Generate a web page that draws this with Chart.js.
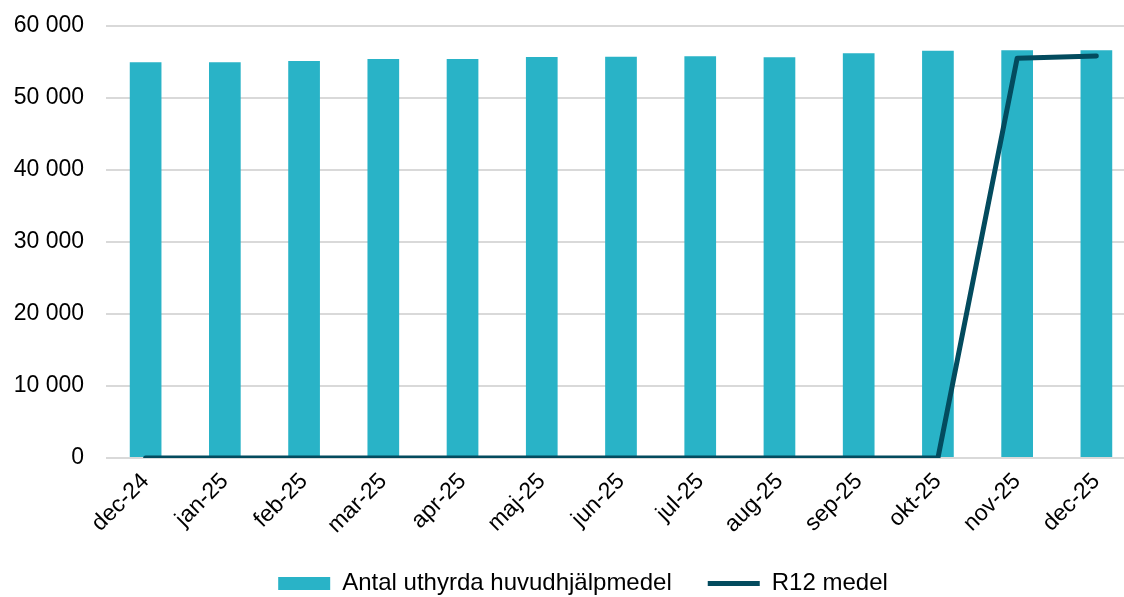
<!DOCTYPE html>
<html>
<head>
<meta charset="utf-8">
<script src="https://cdn.jsdelivr.net/npm/chart.js@4"></script>
<style>
  html, body { margin: 0; padding: 0; background: #fff; overflow: hidden; }
  #wrap { width: 1140px; height: 597px; }
</style>
</head>
<body>
<div id="wrap"><canvas id="myChart" width="1140" height="597"></canvas></div>
<script>
const months = ['dec-24', 'jan-25', 'feb-25', 'mar-25', 'apr-25', 'maj-25', 'jun-25',
    'jul-25', 'aug-25', 'sep-25', 'okt-25', 'nov-25', 'dec-25'];
const rentedValues = [54950, 54950, 55140, 55420, 55420, 55700, 55740,
    55790, 55650, 56200, 56570, 56620, 56620];
const r12Values = [0, 0, 0, 0, 0, 0, 0, 0, 0, 0, 0, 55510, 55830];
const yTicks = [0, 10000, 20000, 30000, 40000, 50000, 60000];

const barColor = '#29b3c7';
const lineColor = '#034b5e';
const font = { family: "'Liberation Sans', Arial, sans-serif", size: 23 };

const formatNumber = (v) => String(v).replace(/\B(?=(\d{3})+(?!\d))/g, ' ');

// legend keeps its wide item gap but only takes the space left under the axis,
// and sits a bit right of the canvas centre like in the original
const legendFix = {
    id: 'legendFix',
    afterInit(chart) {
        const legend = chart.legend;
        const fit = legend.fit.bind(legend);
        legend.fit = function () {
            fit();
            this.height = 61.5;
        };
    },
    afterLayout(chart) {
        chart.legend.left += 15;
        chart.legend.right += 15;
    }
};

const ctx = document.getElementById('myChart').getContext('2d');
const myChart = new Chart(ctx, {
    type: 'bar',
    data: {
        labels: months,
        datasets: [{
            type: 'bar',
            label: 'Antal uthyrda huvudhjälpmedel',
            data: rentedValues,
            backgroundColor: barColor,
            borderWidth: 0,
            pointStyle: 'rect',
            categoryPercentage: 1,
            barPercentage: 0.4,
            order: 1
        }, {
            type: 'line',
            label: 'R12 medel',
            data: r12Values,
            borderColor: lineColor,
            backgroundColor: lineColor,
            borderWidth: 5,
            borderCapStyle: 'round',
            borderJoinStyle: 'round',
            pointRadius: 0,
            pointHoverRadius: 0,
            pointStyle: 'line',
            tension: 0,
            order: 0
        }]
    },
    plugins: [legendFix],
    options: {
        responsive: false,
        animation: false,
        layout: { padding: { top: 26, left: 0, right: 4, bottom: 0 } },
        plugins: {
            tooltip: { enabled: false },
            legend: {
                position: 'bottom',
                labels: {
                    usePointStyle: true,
                    pointStyleWidth: 52,
                    boxHeight: 13,
                    padding: 36,
                    color: '#000',
                    font: { family: font.family, size: 24 },
                    sort: (a, b) => a.datasetIndex - b.datasetIndex
                }
            }
        },
        scales: {
            x: {
                grid: { display: false },
                border: { display: false },
                ticks: {
                    color: '#000',
                    font: font,
                    maxRotation: 45,
                    minRotation: 45,
                    padding: 2
                },
                afterFit: (scale) => { scale.height = 77.5; }
            },
            y: {
                min: 0,
                max: 60000,
                afterBuildTicks: (scale) => { scale.ticks = yTicks.map(v => ({ value: v })); },
                grid: { color: '#d9d9d9', lineWidth: 2, drawTicks: false },
                border: { display: false },
                ticks: {
                    color: '#000',
                    font: font,
                    padding: 22,
                    callback: (v) => formatNumber(v)
                },
                afterFit: (scale) => {
                    scale.width = 106;
                    scale.paddingTop = 0;
                }
            }
        }
    }
});
</script>
</body>
</html>
